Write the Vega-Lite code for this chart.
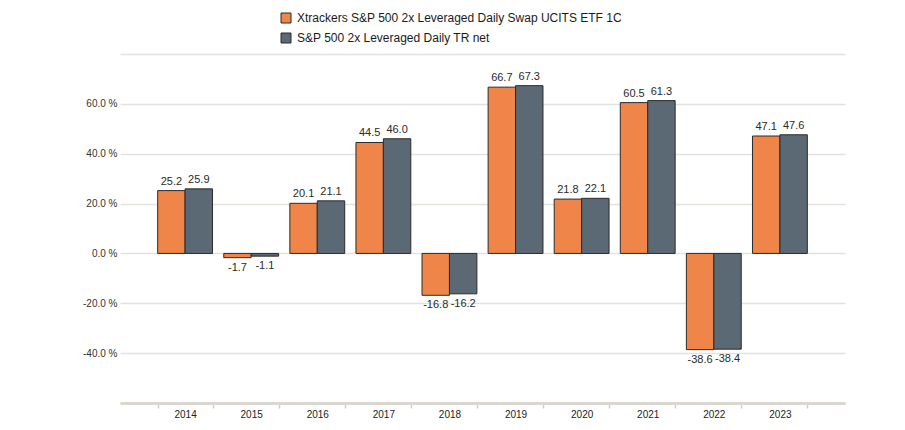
{
  "$schema": "https://vega.github.io/schema/vega-lite/v6.json",
  "width": 725,
  "height": 349,
  "autosize": {"type": "none"},
  "padding": {"left": 120, "top": 54, "right": 60, "bottom": 27},
  "background": "white",
  "config": {
    "view": {"stroke": null},
    "font": "Liberation Sans",
    "locale": {
      "number": {"decimal": ".", "thousands": ",", "grouping": [3], "currency": ["$", ""], "minus": "-"}
    }
  },
  "data": {
    "values": [
      {"year": "2014", "series": "Xtrackers S&P 500 2x Leveraged Daily Swap UCITS ETF 1C", "value": 25.2},
      {"year": "2014", "series": "S&P 500 2x Leveraged Daily TR net", "value": 25.9},
      {"year": "2015", "series": "Xtrackers S&P 500 2x Leveraged Daily Swap UCITS ETF 1C", "value": -1.7},
      {"year": "2015", "series": "S&P 500 2x Leveraged Daily TR net", "value": -1.1},
      {"year": "2016", "series": "Xtrackers S&P 500 2x Leveraged Daily Swap UCITS ETF 1C", "value": 20.1},
      {"year": "2016", "series": "S&P 500 2x Leveraged Daily TR net", "value": 21.1},
      {"year": "2017", "series": "Xtrackers S&P 500 2x Leveraged Daily Swap UCITS ETF 1C", "value": 44.5},
      {"year": "2017", "series": "S&P 500 2x Leveraged Daily TR net", "value": 46.0},
      {"year": "2018", "series": "Xtrackers S&P 500 2x Leveraged Daily Swap UCITS ETF 1C", "value": -16.8},
      {"year": "2018", "series": "S&P 500 2x Leveraged Daily TR net", "value": -16.2},
      {"year": "2019", "series": "Xtrackers S&P 500 2x Leveraged Daily Swap UCITS ETF 1C", "value": 66.7},
      {"year": "2019", "series": "S&P 500 2x Leveraged Daily TR net", "value": 67.3},
      {"year": "2020", "series": "Xtrackers S&P 500 2x Leveraged Daily Swap UCITS ETF 1C", "value": 21.8},
      {"year": "2020", "series": "S&P 500 2x Leveraged Daily TR net", "value": 22.1},
      {"year": "2021", "series": "Xtrackers S&P 500 2x Leveraged Daily Swap UCITS ETF 1C", "value": 60.5},
      {"year": "2021", "series": "S&P 500 2x Leveraged Daily TR net", "value": 61.3},
      {"year": "2022", "series": "Xtrackers S&P 500 2x Leveraged Daily Swap UCITS ETF 1C", "value": -38.6},
      {"year": "2022", "series": "S&P 500 2x Leveraged Daily TR net", "value": -38.4},
      {"year": "2023", "series": "Xtrackers S&P 500 2x Leveraged Daily Swap UCITS ETF 1C", "value": 47.1},
      {"year": "2023", "series": "S&P 500 2x Leveraged Daily TR net", "value": 47.6}
    ]
  },
  "encoding": {
    "x": {
      "field": "year", "type": "nominal",
      "scale": {"paddingInner": 0.17, "paddingOuter": 0.57},
      "axis": {
        "title": null, "labelAngle": 0, "labelFontSize": 10, "labelColor": "#222",
        "labelPadding": 1, "domainColor": "#dad7d0", "domainWidth": 3,
        "tickColor": "#d2cec6", "tickWidth": 1.5, "tickSize": 5, "tickBand": "extent",
        "grid": false
      }
    },
    "xOffset": {
      "field": "series", "type": "nominal",
      "sort": ["Xtrackers S&P 500 2x Leveraged Daily Swap UCITS ETF 1C", "S&P 500 2x Leveraged Daily TR net"],
      "scale": {"paddingInner": 0, "paddingOuter": 0}
    },
    "y": {
      "field": "value", "type": "quantitative",
      "scale": {"domain": [-60, 80], "nice": false, "zero": true},
      "axis": {
        "title": null, "values": [-60, -40, -20, 0, 20, 40, 60, 80],
        "labelExpr": "datum.value > 60 || datum.value < -40 ? '' : format(datum.value, '.1f') + ' %'",
        "labelFontSize": 10, "labelColor": "#333", "labelPadding": 3,
        "ticks": false, "domain": false,
        "gridColor": "#e4e2dc", "gridWidth": 1.5
      }
    }
  },
  "layer": [
    {
      "mark": {"type": "bar", "stroke": "#2b2b2b", "strokeWidth": 1},
      "encoding": {
        "color": {
          "field": "series", "type": "nominal",
          "scale": {
            "domain": ["Xtrackers S&P 500 2x Leveraged Daily Swap UCITS ETF 1C", "S&P 500 2x Leveraged Daily TR net"],
            "range": ["#ef8549", "#5a6974"]
          },
          "legend": {
            "title": null, "orient": "none", "direction": "vertical",
            "legendX": 160, "legendY": -42,
            "symbolType": "square", "symbolSize": 100, "symbolStrokeColor": "#2b2b2b", "symbolStrokeWidth": 1,
            "labelFontSize": 12, "labelColor": "#1a1a1a", "rowPadding": 6, "labelLimit": 500, "labelOffset": 5
          }
        }
      }
    },
    {
      "transform": [{"filter": "datum.value >= 0"}],
      "mark": {"type": "text", "baseline": "bottom", "dy": -4, "fontSize": 11, "color": "#2a2a2a"},
      "encoding": {"text": {"field": "value", "type": "quantitative", "format": ".1f"}}
    },
    {
      "transform": [{"filter": "datum.value < 0"}],
      "mark": {"type": "text", "baseline": "top", "dy": 4, "fontSize": 11, "color": "#2a2a2a"},
      "encoding": {"text": {"field": "value", "type": "quantitative", "format": ".1f"}}
    }
  ]
}
